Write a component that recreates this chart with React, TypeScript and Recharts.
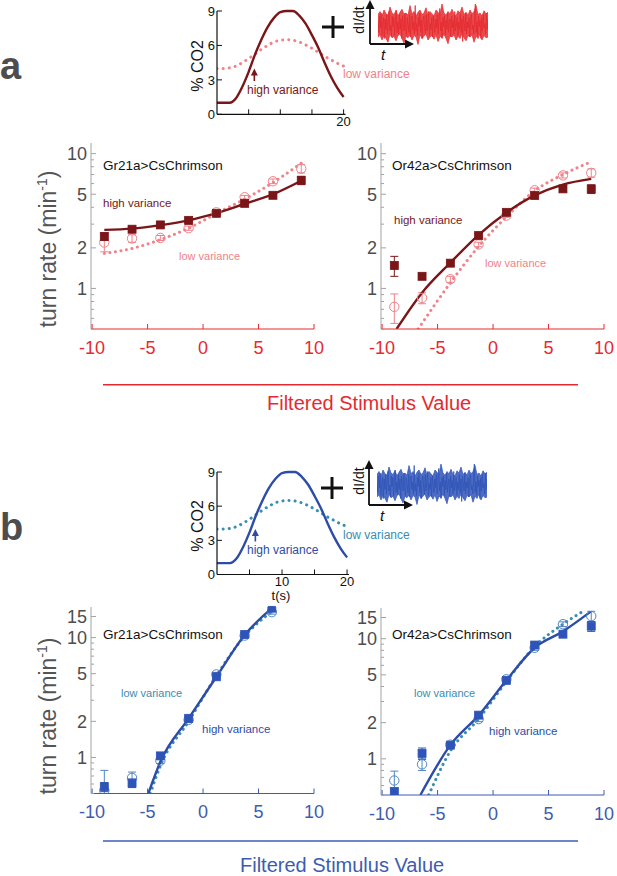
import React from 'react';
import { ComposedChart, Line, Area, Scatter, ErrorBar, XAxis, YAxis, ReferenceLine, ReferenceDot } from 'recharts';

const FONT = '"Liberation Sans", Arial, Helvetica, sans-serif';

// colours
const DARK_RED = '#7a1518';
const PINK = '#f0828a';
const RED = '#e52a2f';
const BLUE = '#2c4ca8';
const SQ_BLUE = '#2f54b8';
const CIRC_BLUE = '#4f86c4';
const TEAL = '#3a8db0';
const AXIS_BLUE = '#3d5cb0';
const GRAY_AXIS = '#a3a3a3';
const GRAY_TEXT = '#4d4d4d';

type Err = number | [number, number];

// stimulus bins (filtered stimulus value)
const BIN_X = [-8.9, -6.4, -3.85, -1.3, 1.2, 3.75, 6.3, 8.85];

// panel a, Gr21a>CsChrimson
const GR_A_HIGH = [2.43, 2.75, 2.96, 3.2, 3.61, 4.28, 4.91, 6.34];
const GR_A_HIGH_ERR = [0.15, 0.1, 0.1, 0.1, 0.1, 0.12, 0.2, 0.45];
const GR_A_LOW = [2.19, 2.35, 2.37, 2.8, 3.67, 4.75, 6.24, 7.74];
const GR_A_LOW_ERR = [0.32, 0.15, 0.1, 0.1, 0.1, 0.15, 0.25, 0.55];
const GR_A_FIT_X = [-8.9, -6.4, -3.85, -1.3, 1.2, 3.75, 6.3, 8.85];
const GR_A_FIT_HIGH = [2.72, 2.78, 2.95, 3.2, 3.62, 4.25, 5.0, 6.3];
const GR_A_FIT_LOW = [1.82, 1.98, 2.3, 2.8, 3.6, 4.6, 6.1, 8.5];

// panel a, Or42a>CsChrimson
const OR_A_HIGH = [1.48, 1.23, 1.54, 2.47, 3.67, 4.89, 5.48, 5.47];
const OR_A_HIGH_ERR = [0.25, 0.06, 0.06, 0.08, 0.1, 0.15, 0.2, 0.4];
const OR_A_LOW = [0.73, 0.85, 1.17, 2.12, 3.47, 5.35, 6.9, 7.2];
const OR_A_LOW_ERR = [0.18, 0.08, 0.06, 0.08, 0.1, 0.2, 0.3, 0.5];
const OR_A_FIT_HIGH_X = [-8.7, -6.4, -3.85, -1.3, 1.2, 3.75, 6.3, 8.85];
const OR_A_FIT_HIGH = [0.5, 0.93, 1.55, 2.5, 3.65, 4.9, 5.9, 6.5];
const OR_A_FIT_LOW_X = [-6.75, -3.85, -1.3, 1.2, 3.75, 6.3, 8.85];
const OR_A_FIT_LOW = [0.5, 1.1, 2.05, 3.4, 5.3, 7.0, 8.7];

// panel b, Gr21a>CsChrimson (7 bins)
const GR_B_X = [-8.9, -6.4, -3.85, -1.3, 1.2, 3.75, 6.2];
const GR_B_HIGH = [0.568, 0.61, 1.03, 2.12, 4.71, 10.6, 17.6];
const GR_B_HIGH_ERR: Err[] = [0.05, 0.05, 0.06, 0.1, 0.2, 0.4, 0.6];
const GR_B_LOW = [0.53, 0.675, 0.94, 2.06, 4.93, 10.4, 16.3];
const GR_B_LOW_ERR: Err[] = [[0.03, 0.25], 0.08, 0.05, 0.1, 0.2, 0.4, 0.6];
const GR_B_FIT_HIGH_X = [-4.93, -3.85, -1.3, 1.2, 3.75, 6.2];
const GR_B_FIT_HIGH = [0.5, 0.92, 2.12, 4.7, 10.5, 17.6];
const GR_B_FIT_LOW_X = [-4.75, -3.85, -1.3, 1.2, 3.75, 6.2];
const GR_B_FIT_LOW = [0.5, 0.85, 2.0, 4.8, 10.3, 16.5];

// panel b, Or42a>CsChrimson
const OR_B_HIGH = [0.535, 1.11, 1.3, 2.31, 4.5, 8.85, 10.9, 12.7];
const OR_B_HIGH_ERR: Err[] = [0.03, 0.12, 0.05, 0.1, 0.2, 0.4, 0.5, 1.2];
const OR_B_LOW = [0.66, 0.9, 1.31, 2.14, 4.59, 8.4, 13.2, 15.4];
const OR_B_LOW_ERR: Err[] = [0.13, 0.1, 0.05, 0.1, 0.2, 0.4, 0.6, 1.5];
const OR_B_FIT_HIGH_X = [-6.55, -3.85, -1.3, 1.2, 3.75, 6.3, 8.8];
const OR_B_FIT_HIGH = [0.5, 1.3, 2.3, 4.5, 8.4, 11.5, 16.8];
const OR_B_FIT_LOW_X = [-5.8, -3.85, -1.3, 1.2, 3.75, 6.3, 8.3];
const OR_B_FIT_LOW = [0.5, 1.16, 2.15, 4.4, 8.6, 13.2, 17.3];

// CO2 stimulus insets
const T_SEC = [0, 1, 2, 3, 4, 5, 6, 7, 8, 9, 10, 11, 12, 13, 14, 15, 16, 17, 18, 19, 20];
const CO2_HIGH = [1, 1, 1, 1.4, 2.4, 3.7, 5.2, 6.5, 7.6, 8.4, 8.9, 9.0, 9.0, 8.6, 7.9, 6.9, 5.8, 4.5, 3.3, 2.3, 1.5];
const CO2_LOW = [4.0, 4.0, 4.05, 4.2, 4.5, 4.85, 5.25, 5.65, 6.0, 6.3, 6.45, 6.5, 6.45, 6.3, 6.05, 5.75, 5.4, 5.05, 4.75, 4.45, 4.2];

// optogenetic noise trace dI/dt (shape only): trace and its ragged envelope
const NOISE = [
  0.3, -0.5, 0.6, -0.2, 0.8, -0.7, 0.1, 0.5, -0.9, 0.4, -0.3, 0.7, -0.6, 0.2, 0.9, -0.4, 0.0, -0.8, 0.6, -0.1,
  0.5, -0.7, 0.3, 1.0, -0.5, 0.2, -0.6, 0.7, -0.3, 0.4, -0.9, 0.6, 0.1, -0.4, 0.8, -0.2, -0.7, 0.5, 0.0, -0.5,
  0.7, -0.8, 0.3, 0.6, -0.3, 0.2, -0.6, 1.3, -0.4, 0.1, -0.7, 0.5, -0.1, 0.8, -0.5, 0.3, -0.9, 0.4, 0.6, -0.2,
  -0.6, 0.7, -0.4, 0.2, 0.9, -0.7, 0.1, -0.3, 0.5, -0.8, 0.6, 0.0, -0.5, 0.4, -0.2, 0.7, -0.6, 0.3, 1.1, -0.4,
  0.2, -0.9, 0.5, -0.1, 0.6, -0.7, 0.3, -0.3, 0.8, -0.5, 0.1, 0.4, -0.8, 0.6, -0.2, 0.3, -0.6, 0.9, -0.4, 0.0,
  0.5, -0.7, 0.2, -0.3, 0.7, -0.5, 0.4, -1.1, 0.6, 0.1, -0.4, 0.8, -0.6, 0.2, -0.2, 0.5, -0.8, 0.3, 0.7, -0.3,
  0.0, -0.6, 0.4, 1.4, -0.5, 0.2, -0.7, 0.6, -0.1, 0.3, -0.9, 0.5, -0.4, 0.7, -0.2, 0.1, -0.6, 0.8, -0.3, 0.4,
];
const NOISE_TOP = [
  0.7, 0.9, 0.6, 1.0, 0.75, 0.65, 1.2, 0.8, 0.7, 0.95, 0.6, 0.85, 1.05, 0.7, 0.8, 0.65, 1.3, 0.75, 0.9, 0.6,
  0.85, 1.0, 0.7, 0.8, 1.15, 0.65, 0.9, 0.75, 0.6, 1.0, 0.85, 0.7, 1.4, 0.8, 0.65, 0.9, 0.75, 1.05, 0.7, 0.6,
  0.95, 0.8, 1.2, 0.7, 0.85, 0.65, 1.0, 0.75, 0.9, 1.3, 0.7, 0.8, 0.6, 0.95, 0.75, 0.85,
];
const NOISE_BOTTOM = [
  -0.8, -0.65, -1.0, -0.7, -0.9, -1.15, -0.6, -0.85, -0.75, -1.05, -0.7, -0.6, -0.9, -1.2, -0.75, -0.85, -0.65, -1.0, -0.7, -0.8,
  -1.3, -0.65, -0.9, -0.75, -0.6, -1.0, -0.8, -0.7, -0.95, -0.65, -1.1, -0.75, -0.85, -0.6, -0.9, -1.25, -0.7, -0.8, -0.65, -1.0,
  -0.75, -0.9, -0.6, -0.85, -1.05, -0.7, -0.8, -0.65, -1.15, -0.75, -0.9, -0.6, -1.0, -0.7, -0.85, -0.8,
];

const X_TICKS = [-10, -5, 0, 5, 10];
const Y_TICKS_A = [0.5, 0.6, 0.7, 0.8, 0.9, 1, 2, 3, 4, 5, 6, 7, 8, 9, 10];
const Y_LABELS_A = [1, 2, 5, 10];
const Y_TICKS_B = [0.5, 0.6, 0.7, 0.8, 0.9, 1, 2, 3, 4, 5, 6, 7, 8, 9, 10, 15];
const Y_LABELS_B = [1, 2, 5, 10, 15];

const zip = (xs: number[], ys: number[], es?: Err[]) =>
  xs.map((x, i) => ({ x, y: ys[i], e: es ? es[i] : 0 }));

const makeYTick = (labels: number[], color: string, size: number, margin: number, tickColor: string) => (props: any) => {
  const { x, y, payload } = props;
  const major = labels.includes(payload.value);
  const ax = x + margin;
  return (
    <g>
      <line x1={ax} x2={ax + (major ? 5 : 3)} y1={y} y2={y} stroke={tickColor} strokeWidth={1} />
      {major && (
        <text x={x} y={y} dy="0.36em" textAnchor="end" fontSize={size} fill={color} fontFamily={FONT}>
          {payload.value}
        </text>
      )}
    </g>
  );
};

const makeXTick = (labels: number[], color: string, size: number, margin: number, tickColor: string) => (props: any) => {
  const { x, y, payload } = props;
  const ay = y - margin;
  const show = labels.includes(payload.value);
  return (
    <g>
      <line x1={x} x2={x} y1={ay} y2={ay - 5} stroke={tickColor} strokeWidth={1} />
      {show && (
        <text x={x} y={y} dy="0.71em" textAnchor="middle" fontSize={size} fill={color} fontFamily={FONT}>
          {payload.value}
        </text>
      )}
    </g>
  );
};

const square = (fill: string) => (p: any) => (
  <rect x={p.cx - 4} y={p.cy - 4} width={8} height={8} fill={fill} stroke={fill} strokeWidth={0.8} />
);
const ring = (stroke: string) => (p: any) => (
  <circle cx={p.cx} cy={p.cy} r={4.7} fill="none" stroke={stroke} strokeWidth={1} />
);

interface MainProps {
  left: number; top: number; w: number; h: number;
  yDomain: [number, number]; yTicks: number[]; yLabels: number[];
  axisColor: string;
  hi: { x: number; y: number; e: Err }[];
  lo: { x: number; y: number; e: Err }[];
  fitHi: { x: number; y: number }[];
  fitLo: { x: number; y: number }[];
  hiColor: string; hiLine: string; loColor: string; loLine: string;
}

const ML = 60, MT = 10, MR = 10, MB = 40;

const MainPanel: React.FC<MainProps> = (p) => (
  <div style={{ position: 'absolute', left: p.left - ML, top: p.top - MT }}>
    <ComposedChart width={p.w + ML + MR} height={p.h + MT + MB} margin={{ top: MT, right: MR, bottom: 0, left: 0 }}>
      <XAxis
        type="number" dataKey="x" domain={[-10.1, 10]} allowDataOverflow ticks={X_TICKS} interval={0}
        height={MB} tickSize={0} tickMargin={12} axisLine={{ stroke: p.axisColor, strokeWidth: 1 }}
        tick={makeXTick(X_TICKS, p.axisColor, 18, 12, p.axisColor)}
      />
      <YAxis
        type="number" dataKey="y" scale="log" domain={p.yDomain} allowDataOverflow ticks={p.yTicks} interval={0}
        width={ML} tickSize={0} tickMargin={4} axisLine={{ stroke: GRAY_AXIS, strokeWidth: 1 }}
        tick={makeYTick(p.yLabels, GRAY_TEXT, 18, 4, GRAY_AXIS)}
      />
      <Line data={p.fitLo} dataKey="y" type="monotone" stroke={p.loLine} strokeWidth={3} strokeDasharray="0.1 5.5"
        strokeLinecap="round" dot={false} isAnimationActive={false} />
      <Scatter data={p.lo} shape={ring(p.loColor)} isAnimationActive={false}>
        <ErrorBar dataKey="e" direction="y" width={4} stroke={p.loColor} strokeWidth={1} />
      </Scatter>
      <Line data={p.fitHi} dataKey="y" type="monotone" stroke={p.hiLine} strokeWidth={2.4} dot={false} isAnimationActive={false} />
      <Scatter data={p.hi} shape={square(p.hiColor)} isAnimationActive={false}>
        <ErrorBar dataKey="e" direction="y" width={4} stroke={p.hiColor} strokeWidth={1} />
      </Scatter>
    </ComposedChart>
  </div>
);

interface InsetProps {
  left: number; top: number; w: number; h: number;
  hiColor: string; loColor: string; xLabels: number[];
}

const IL = 40, IT = 8, IR = 8, IB = 20;

const Inset: React.FC<InsetProps> = (p) => {
  const hi = zip(T_SEC, CO2_HIGH);
  const lo = zip(T_SEC, CO2_LOW);
  return (
    <div style={{ position: 'absolute', left: p.left - IL, top: p.top - IT }}>
      <ComposedChart width={p.w + IL + IR} height={p.h + IT + IB} margin={{ top: IT, right: IR, bottom: 0, left: 0 }}>
        <XAxis
          type="number" dataKey="x" domain={[0, 20.3]} allowDataOverflow ticks={[5, 10, 15, 20]} interval={0}
          height={IB} tickSize={0} tickMargin={2} axisLine={{ stroke: '#111', strokeWidth: 1.2 }}
          tick={makeXTick(p.xLabels, '#111', 13, 2, '#111')}
        />
        <YAxis
          type="number" dataKey="y" domain={[0, 9]} ticks={[0, 3, 6, 9]} interval={0}
          width={IL} tickSize={0} tickMargin={2} axisLine={{ stroke: '#111', strokeWidth: 1.2 }}
          tick={makeYTick([0, 3, 6, 9], '#111', 13, 2, '#111')}
        />
        <Line data={lo} dataKey="y" type="monotone" stroke={p.loColor} strokeWidth={3} strokeDasharray="0.1 6"
          strokeLinecap="round" dot={false} isAnimationActive={false} />
        <Line data={hi} dataKey="y" type="monotone" stroke={p.hiColor} strokeWidth={2.4} dot={false} isAnimationActive={false} />
        <ReferenceLine segment={[{ x: 5.9, y: 2.9 }, { x: 5.9, y: 3.7 }]} stroke={p.hiColor} strokeWidth={1.6} />
        <ReferenceDot x={5.9} y={4.0} r={0}
          shape={(s: any) => (
            <polygon points={`${s.cx},${s.cy} ${s.cx - 3.5},${s.cy + 7} ${s.cx + 3.5},${s.cy + 7}`} fill={p.hiColor} />
          )} />
      </ComposedChart>
    </div>
  );
};

const Noise: React.FC<{ left: number; top: number; color: string }> = ({ left, top, color }) => {
  const trace = NOISE.map((v, i) => ({ x: i / (NOISE.length - 1), v }));
  const band = NOISE_TOP.map((v, i) => ({ x: i / (NOISE_TOP.length - 1), r: [NOISE_BOTTOM[i], v] }));
  return (
    <div style={{ position: 'absolute', left, top }}>
      <ComposedChart width={110} height={48} margin={{ top: 0, right: 0, bottom: 0, left: 0 }}>
        <XAxis type="number" dataKey="x" domain={[0, 1]} hide />
        <YAxis type="number" domain={[-1.6, 1.6]} hide />
        <Area data={band} dataKey="r" type="linear" stroke={color} strokeWidth={0.7} fill={color} fillOpacity={0.85}
          isAnimationActive={false} />
        <Line data={trace} dataKey="v" type="linear" stroke={color} strokeWidth={0.8} dot={false} isAnimationActive={false} />
      </ComposedChart>
    </div>
  );
};

const AxisArrows: React.FC<{ x: number; y: number; top: number; right: number }> = ({ x, y, top, right }) => (
  <g stroke="#111" fill="#111">
    <line x1={x} y1={y} x2={x} y2={top + 7} strokeWidth={1.8} />
    <polygon points={`${x},${top} ${x - 4.5},${top + 9} ${x + 4.5},${top + 9}`} stroke="none" />
    <line x1={x} y1={y} x2={right - 7} y2={y} strokeWidth={1.8} />
    <polygon points={`${right},${y} ${right - 9},${y - 4.5} ${right - 9},${y + 4.5}`} stroke="none" />
  </g>
);

const Plus: React.FC<{ cx: number; cy: number }> = ({ cx, cy }) => (
  <g stroke="#111" strokeWidth={3}>
    <line x1={cx - 11} x2={cx + 11} y1={cy} y2={cy} />
    <line x1={cx} x2={cx} y1={cy - 11} y2={cy + 11} />
  </g>
);

const Txt: React.FC<{ x: number; y: number; size: number; color: string; children: React.ReactNode; bold?: boolean; italic?: boolean }> =
  ({ x, y, size, color, children, bold, italic }) => (
    <text x={x} y={y} dy="0.35em" fontSize={size} fill={color} fontFamily={FONT}
      fontWeight={bold ? 'bold' : 'normal'} fontStyle={italic ? 'italic' : 'normal'}>
      {children}
    </text>
  );

const RotLabel: React.FC<{ x: number; y: number; size: number; color: string; children: React.ReactNode }> =
  ({ x, y, size, color, children }) => (
    <text transform={`translate(${x},${y}) rotate(-90)`} dy="0.35em" textAnchor="middle" fontSize={size} fill={color} fontFamily={FONT}>
      {children}
    </text>
  );

const TurnRate: React.FC<{ x: number; y: number }> = ({ x, y }) => (
  <RotLabel x={x} y={y} size={23} color="#555">
    turn rate (min
    <tspan dy={-9} fontSize={14}>-1</tspan>
    <tspan dy={9}>)</tspan>
  </RotLabel>
);

export default function App() {
  return (
    <div style={{ position: 'absolute', left: 0, top: 0, width: 617, height: 876, background: '#fff', overflow: 'hidden' }}>
      {/* panel a */}
      <Inset left={216.7} top={10.7} w={128.5} h={103.3} hiColor={DARK_RED} loColor={PINK} xLabels={[20]} />
      <Noise left={378} top={1} color={RED} />
      <MainPanel left={91} top={143} w={223} h={186} yDomain={[0.5, 12]} yTicks={Y_TICKS_A} yLabels={Y_LABELS_A}
        axisColor={RED} hi={zip(BIN_X, GR_A_HIGH, GR_A_HIGH_ERR)} lo={zip(BIN_X, GR_A_LOW, GR_A_LOW_ERR)}
        fitHi={zip(GR_A_FIT_X, GR_A_FIT_HIGH)} fitLo={zip(GR_A_FIT_X, GR_A_FIT_LOW)}
        hiColor={DARK_RED} hiLine={DARK_RED} loColor={PINK} loLine={PINK} />
      <MainPanel left={381} top={143} w={223} h={186} yDomain={[0.5, 12]} yTicks={Y_TICKS_A} yLabels={Y_LABELS_A}
        axisColor={RED} hi={zip(BIN_X, OR_A_HIGH, OR_A_HIGH_ERR)} lo={zip(BIN_X, OR_A_LOW, OR_A_LOW_ERR)}
        fitHi={zip(OR_A_FIT_HIGH_X, OR_A_FIT_HIGH)} fitLo={zip(OR_A_FIT_LOW_X, OR_A_FIT_LOW)}
        hiColor={DARK_RED} hiLine={DARK_RED} loColor={PINK} loLine={PINK} />

      {/* panel b */}
      <Inset left={216.5} top={471.7} w={132} h={102.5} hiColor={BLUE} loColor={TEAL} xLabels={[10, 20]} />
      <Noise left={377} top={461} color={SQ_BLUE} />
      <MainPanel left={91} top={607} w={223} h={186.5} yDomain={[0.5, 18]} yTicks={Y_TICKS_B} yLabels={Y_LABELS_B}
        axisColor={AXIS_BLUE} hi={zip(GR_B_X, GR_B_HIGH, GR_B_HIGH_ERR)} lo={zip(GR_B_X, GR_B_LOW, GR_B_LOW_ERR)}
        fitHi={zip(GR_B_FIT_HIGH_X, GR_B_FIT_HIGH)} fitLo={zip(GR_B_FIT_LOW_X, GR_B_FIT_LOW)}
        hiColor={SQ_BLUE} hiLine={BLUE} loColor={CIRC_BLUE} loLine={TEAL} />
      <MainPanel left={381} top={608} w={223} h={187} yDomain={[0.5, 18]} yTicks={Y_TICKS_B} yLabels={Y_LABELS_B}
        axisColor={AXIS_BLUE} hi={zip(BIN_X, OR_B_HIGH, OR_B_HIGH_ERR)} lo={zip(BIN_X, OR_B_LOW, OR_B_LOW_ERR)}
        fitHi={zip(OR_B_FIT_HIGH_X, OR_B_FIT_HIGH)} fitLo={zip(OR_B_FIT_LOW_X, OR_B_FIT_LOW)}
        hiColor={SQ_BLUE} hiLine={BLUE} loColor={CIRC_BLUE} loLine={TEAL} />

      <svg width={617} height={876} style={{ position: 'absolute', left: 0, top: 0, pointerEvents: 'none' }}>
        {/* panel letters */}
        <Txt x={0} y={66} size={38} color={GRAY_TEXT} bold>a</Txt>
        <Txt x={0} y={527} size={38} color={GRAY_TEXT} bold>b</Txt>

        {/* inset a annotations */}
        <RotLabel x={197} y={66} size={16} color="#111">% CO2</RotLabel>
        <Txt x={247} y={90} size={12} color={DARK_RED}>high variance</Txt>
        <Txt x={343} y={74} size={12} color={PINK}>low variance</Txt>
        <Plus cx={333} cy={27} />
        <AxisArrows x={370} y={44} top={0} right={414} />
        <RotLabel x={359} y={20} size={14} color="#111">dI/dt</RotLabel>
        <Txt x={381} y={55} size={15} color="#111" italic>t</Txt>

        {/* main a annotations */}
        <TurnRate x={48} y={249} />
        <Txt x={103} y={165} size={13.5} color="#111">Gr21a&gt;CsChrimson</Txt>
        <Txt x={103} y={203} size={11.5} color={DARK_RED}>high variance</Txt>
        <Txt x={179} y={256} size={11} color={PINK}>low variance</Txt>
        <Txt x={392} y={165} size={13.5} color="#111">Or42a&gt;CsChrimson</Txt>
        <Txt x={394} y={220} size={11.5} color={DARK_RED}>high variance</Txt>
        <Txt x={485} y={263} size={11} color={PINK}>low variance</Txt>
        <line x1={103} x2={578} y1={384.7} y2={384.7} stroke={RED} strokeWidth={1.5} />
        <Txt x={267} y={403} size={20} color={RED}>Filtered Stimulus Value</Txt>

        {/* inset b annotations */}
        <RotLabel x={197} y={526} size={16} color="#111">% CO2</RotLabel>
        <Txt x={247} y={550} size={12} color={BLUE}>high variance</Txt>
        <Txt x={343} y={535} size={12} color={TEAL}>low variance</Txt>
        <text x={281} y={595} dy="0.35em" textAnchor="middle" fontSize={13} fill="#111" fontFamily={FONT}>t(s)</text>
        <Plus cx={332} cy={488} />
        <AxisArrows x={369} y={505} top={460} right={413} />
        <RotLabel x={359} y={481} size={14} color="#111">dI/dt</RotLabel>
        <Txt x={380} y={516} size={15} color="#111" italic>t</Txt>

        {/* main b annotations */}
        <TurnRate x={48} y={716} />
        <Txt x={103} y={634} size={13.5} color="#111">Gr21a&gt;CsChrimson</Txt>
        <Txt x={121} y={693} size={11} color={TEAL}>low variance</Txt>
        <Txt x={202} y={729} size={11.5} color={BLUE}>high variance</Txt>
        <Txt x={392} y={634} size={13.5} color="#111">Or42a&gt;CsChrimson</Txt>
        <Txt x={414} y={693} size={11} color={TEAL}>low variance</Txt>
        <Txt x={489} y={731} size={11.5} color={BLUE}>high variance</Txt>
        <line x1={103} x2={578} y1={841} y2={841} stroke={AXIS_BLUE} strokeWidth={1.5} />
        <Txt x={240} y={865} size={20} color={AXIS_BLUE}>Filtered Stimulus Value</Txt>
      </svg>
    </div>
  );
}
